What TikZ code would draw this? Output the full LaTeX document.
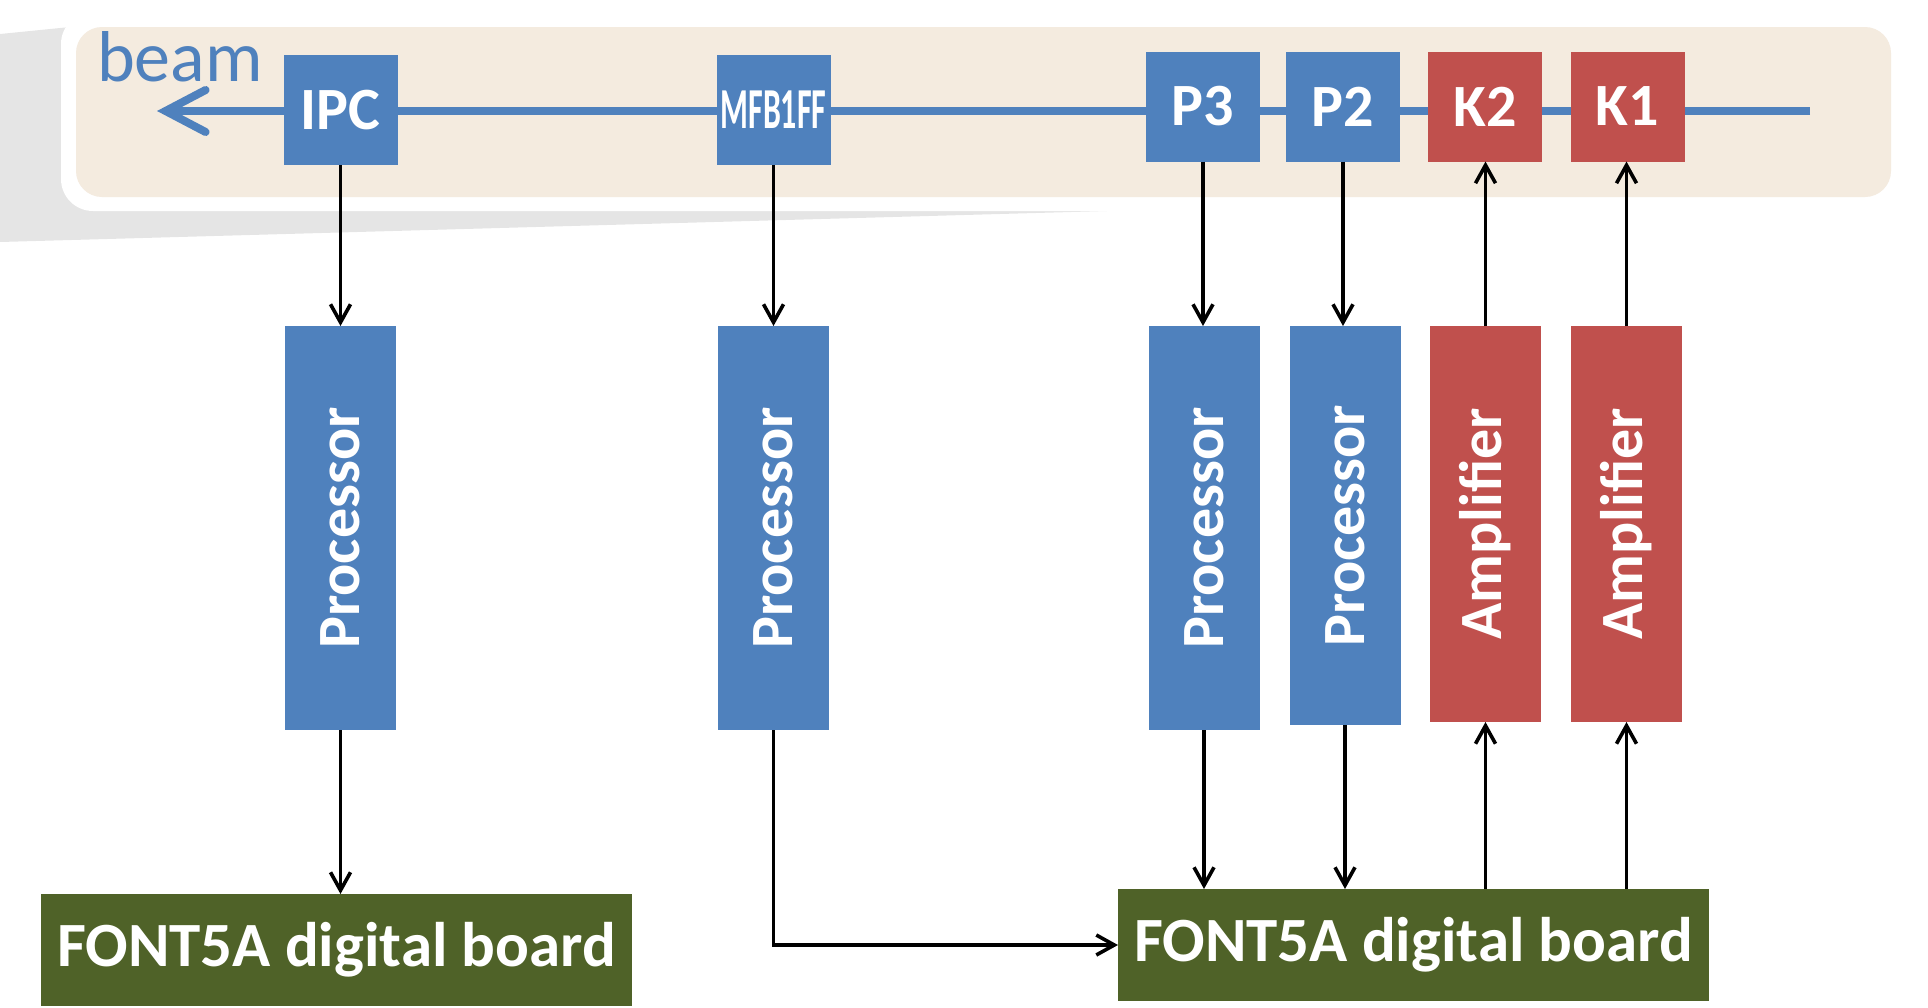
\documentclass[tikz,border=0pt]{standalone}
\usepackage{fontspec}
\setmainfont{Carlito}
\usepackage{tikz}
\usepackage{graphicx}
\usetikzlibrary{arrows.meta, positioning, calc}
\definecolor{pickup}{RGB}{79,129,189}
\definecolor{kicker}{RGB}{192,80,77}
\definecolor{board}{RGB}{79,98,40}
\definecolor{band}{RGB}{244,235,223}
\definecolor{planegrey}{RGB}{229,229,229}

\begin{document}
\begin{tikzpicture}[x=0.5pt, y=-0.5pt,
  blk/.style={fill=#1, text=white, inner sep=0pt, outer sep=0pt, font=\fontsize{30}{30}\selectfont\bfseries},
  mon/.style={blk=#1, minimum width=57pt, minimum height=55pt},
  proc/.style={blk=#1, minimum width=55.5pt, minimum height=202pt},
  fnt/.style={blk=board, minimum width=295.5pt, minimum height=56pt, font=\fontsize{31.5}{31.5}\selectfont\bfseries},
  arr/.style={-{Straight Barb[length=9pt, width=10pt]}, line width=1.8pt},
  beamline/.style={-{Straight Barb[length=20pt, width=21pt, line cap=round]}, line width=4pt, pickup},
]
\useasboundingbox (0,0) rectangle (1928,1007);
% Beamline plane
\fill[planegrey] (0,34) -- (80,26) -- (1107,211) -- (0,242) -- cycle;
\fill[white, rounded corners=16pt] (61,12) rectangle (1905,211);
\fill[band, rounded corners=13pt] (76,27) rectangle (1891,197);
% Beam
\coordinate (upstream) at (1810,111);
\coordinate (downstream) at (157,111);
\draw[beamline] (upstream) -- (downstream);
\node[anchor=base west, text=pickup, font=\fontsize{36}{36}\selectfont] (beam) at (90,81) {beam};
% Pickups and kickers
\node[mon=pickup] (ipc) at (340.5,110) {IPC};
\node[mon=pickup] (mfb) at (773.5,110) {\scalebox{0.55}[1]{\fontsize{29}{29}\selectfont MFB1FF}};
\node[mon=pickup] (p3) at (1203,106.5) {P3};
\node[mon=pickup] (p2) at (1343,106.5) {P2};
\node[mon=kicker] (k2) at (1485,106.5) {K2};
\node[mon=kicker] (k1) at (1627.5,106.5) {K1};
% Front ends
\node[proc=pickup] (ipcproc) at (340.5,528) {\rotatebox{90}{Processor}};
\node[proc=pickup] (mfbproc) at (773.5,528) {\rotatebox{90}{Processor}};
\node[proc=pickup] (p3proc) at (1204,528) {\rotatebox{90}{Processor}};
\node[proc=pickup, minimum height=199.5pt] (p2proc) at (1345,525.5) {\rotatebox{90}{Processor}};
\node[proc=kicker, minimum height=198pt] (k2amp) at (1485.5,524) {\rotatebox{90}{Amplifier}};
\node[proc=kicker, minimum height=198pt] (k1amp) at (1626.5,524) {\rotatebox{90}{Amplifier}};
% Digital boards
\node[fnt] (boardL) at (336.5,950) {FONT5A digital board};
\node[fnt] (boardR) at (1413.5,945) {FONT5A digital board};

% Pickup signals down to the processors
\draw[arr] (ipc.south) -- (ipcproc.north);
\draw[arr] (mfb.south) -- (mfbproc.north);
\draw[arr] (p3.south) -- (p3.south |- p3proc.north);
\draw[arr] (p2.south) -- (p2.south |- p2proc.north);
% Processed signals into the boards
\draw[arr] (ipcproc.south) -- (ipcproc.south |- boardL.north);
\draw[arr] (mfbproc.south) |- (boardR.west);
\draw[arr] (p3proc.south) -- (p3proc.south |- boardR.north);
\draw[arr] (p2proc.south) -- (p2proc.south |- boardR.north);
% Kicker drive
\draw[arr] (k2amp.south |- boardR.north) -- (k2amp.south);
\draw[arr] (k1amp.south |- boardR.north) -- (k1amp.south);
\draw[arr] (k2amp.north) -- (k2amp.north |- k2.south);
\draw[arr] (k1amp.north) -- (k1amp.north |- k1.south);
\end{tikzpicture}
\end{document}
